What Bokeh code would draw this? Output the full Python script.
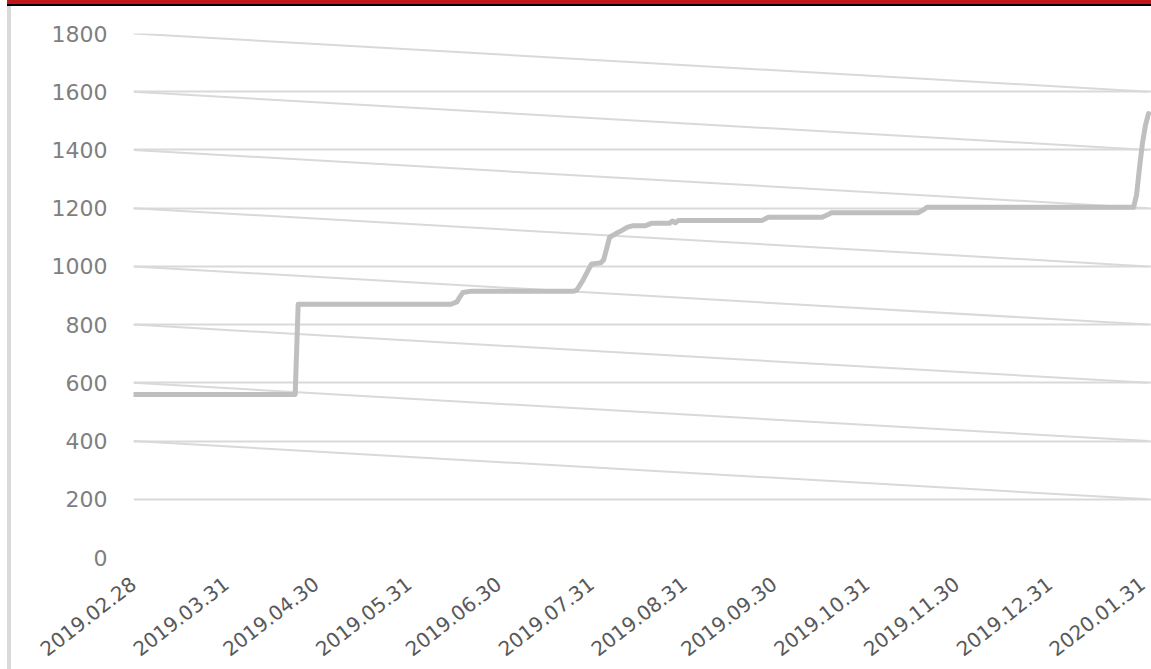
import pandas as pd
from bokeh.plotting import figure
from bokeh.models import Range1d, FixedTicker, Div, DatetimeTickFormatter
from bokeh.layouts import column, row
from bokeh.embed import file_html
from bokeh.resources import INLINE

# ---- data -------------------------------------------------------------
dates = [
    "2019-02-28", "2019-04-23", "2019-04-24", "2019-06-14", "2019-06-16",
    "2019-06-17", "2019-06-18", "2019-06-21", "2019-07-25", "2019-07-26",
    "2019-07-28", "2019-07-30", "2019-07-31", "2019-08-03", "2019-08-04",
    "2019-08-05", "2019-08-06", "2019-08-08", "2019-08-10", "2019-08-12",
    "2019-08-14", "2019-08-18", "2019-08-20", "2019-08-26", "2019-08-27",
    "2019-08-28", "2019-08-29", "2019-09-26", "2019-09-28", "2019-10-16",
    "2019-10-18", "2019-10-19", "2019-11-17", "2019-11-19", "2019-11-20",
    "2020-01-28", "2020-01-29", "2020-01-30", "2020-01-31", "2020-02-01",
    "2020-02-02",
]
values = [
    560, 560, 870, 870, 878,
    895, 910, 915, 915, 918,
    950, 990, 1008, 1012, 1022,
    1060, 1100, 1112, 1123, 1135,
    1140, 1140, 1148, 1148, 1156,
    1150, 1158, 1158, 1169, 1169,
    1178, 1184, 1184, 1195, 1203,
    1203, 1245, 1340, 1425, 1485,
    1525,
]
y_ticks = [0, 200, 400, 600, 800, 1000, 1200, 1400, 1600, 1800]
x_tick_dates = [
    "2019-02-28", "2019-03-31", "2019-04-30", "2019-05-31", "2019-06-30",
    "2019-07-31", "2019-08-31", "2019-09-30", "2019-10-31", "2019-11-30",
    "2019-12-31", "2020-01-31",
]
x_tick_labels = [
    "2019.02.28", "2019.03.31", "2019.04.30", "2019.05.31", "2019.06.30",
    "2019.07.31", "2019.08.31", "2019.09.30", "2019.10.31", "2019.11.30",
    "2019.12.31", "2020.01.31",
]

# ---- derived ------------------------------------------------------------
d = [t.to_pydatetime() for t in pd.to_datetime(dates)]
xt_ms = [float(t.value // 10**6) for t in pd.to_datetime(x_tick_dates)]

GRID = "#D9D9D9"
FONT = "DejaVu Sans"

p = figure(
    width=1140, height=663,
    x_axis_type="datetime",
    x_range=Range1d(d[0], d[-1] + pd.Timedelta(days=1).to_pytimedelta()),
    y_range=Range1d(y_ticks[0], y_ticks[-1]),
    output_backend="svg", toolbar_location=None,
    min_border_left=122, min_border_right=0,
    min_border_top=27, min_border_bottom=112,
    background_fill_color="white", border_fill_color="white",
)
p.outline_line_color = None

# diagonal grid artefacts: each gridline value v (>=400) runs to v-200
n_diag = len(y_ticks) - 2
p.segment(x0=[d[0]] * n_diag, y0=y_ticks[2:], x1=[d[-1]] * n_diag, y1=y_ticks[1:-1],
          line_color=GRID, line_width=2)

p.line(d, values, line_color="#BFBFBF", line_width=5,
       line_join="round", line_cap="round")

# grid
p.xgrid.visible = False
p.ygrid.grid_line_color = GRID
p.ygrid.grid_line_width = 2

# y axis
p.yaxis.ticker = FixedTicker(ticks=y_ticks)
p.yaxis.axis_line_color = None
p.yaxis.major_tick_line_color = None
p.yaxis.minor_tick_line_color = None
p.yaxis.major_tick_out = 0
p.yaxis.major_tick_in = 0
p.yaxis.major_label_standoff = 26
p.yaxis.major_label_text_font = FONT
p.yaxis.major_label_text_font_size = "22px"
p.yaxis.major_label_text_color = "#7F7F7F"

# x axis
fmt = "%Y.%m.%d"
p.xaxis.ticker = FixedTicker(ticks=xt_ms)
p.xaxis.formatter = DatetimeTickFormatter(
    microseconds=fmt, milliseconds=fmt, seconds=fmt, minsec=fmt, minutes=fmt,
    hourmin=fmt, hours=fmt, days=fmt, months=fmt, years=fmt)
p.xaxis.major_label_overrides = {ms: lab for ms, lab in zip(xt_ms, x_tick_labels)}
p.xaxis.axis_line_color = None
p.xaxis.major_tick_line_color = None
p.xaxis.minor_tick_line_color = None
p.xaxis.major_tick_out = 0
p.xaxis.major_tick_in = 0
p.xaxis.major_label_orientation = 0.66
p.xaxis.major_label_standoff = 24
p.xaxis.major_label_text_font = FONT
p.xaxis.major_label_text_font_size = "20px"
p.xaxis.major_label_text_color = "#595959"

# frame decorations: red header bar, black rule, grey left border
hdr_red = Div(width=1144, height=4, margin=0, styles={"background-color": "#C0171B"})
hdr_black = Div(width=1144, height=2, margin=0, styles={"background-color": "#000000"})
left_bar = Div(width=4, height=663, margin=0, styles={"background-color": GRID})

layout = column(hdr_red, hdr_black, row(left_bar, p, spacing=0), spacing=0,
                margin=(0, 0, 0, 7))

open("out.html", "w").write(file_html(layout, INLINE))
